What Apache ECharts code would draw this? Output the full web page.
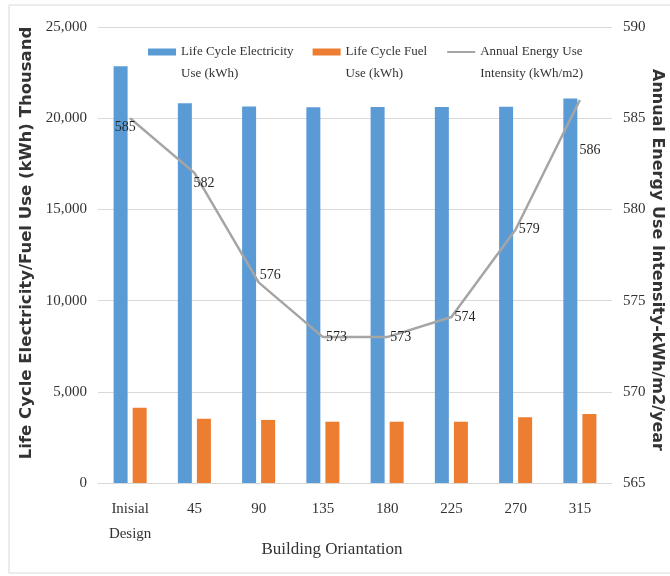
<!DOCTYPE html>
<html>
<head>
<meta charset="utf-8">
<script src="https://cdn.jsdelivr.net/npm/echarts@6/dist/echarts.min.js"></script>
<style>html,body{margin:0;padding:0;background:#fff}#c{width:670px;height:576px}</style>
</head>
<body>
<div id="c"></div>
<script>
var categories = ['Inisial\nDesign', '45', '90', '135', '180', '225', '270', '315'];
var electricity = [22850, 20820, 20640, 20600, 20620, 20620, 20630, 21080];
var fuel = [4120, 3520, 3460, 3360, 3360, 3360, 3610, 3780];
var intensity = [585.0, 582.0, 576.0, 573.0, 573.0, 574.1, 578.9, 586.0];
var leftTicks = [0, 25000, 5000];
var rightTicks = [565, 590, 5];

var serif = '"Liberation Serif", "Times New Roman", serif';
var sansBold = '"DejaVu Sans", sans-serif';

// label placement tweaks (Excel-style auto placement), keyed by point index
var labelTweaks = {
  0: {position: 'bottom', distance: 2, offset: [-5, 0]},
  1: {position: 'right', distance: 3, offset: [-4, 10]},
  2: {position: 'right', distance: 3, offset: [-2, -7]},
  7: {position: 'bottom', distance: 43, offset: [10, 0]}
};
var lineData = intensity.map(function (v, i) {
  return labelTweaks[i] ? {value: v, label: labelTweaks[i]} : v;
});

var chart = echarts.init(document.getElementById('c'), null, {renderer: 'canvas'});
chart.setOption({
  animation: false,
  backgroundColor: '#ffffff',
  graphic: [{
    type: 'rect', silent: true, z: -10,
    shape: {x: 9, y: 5, width: 680, height: 568},
    style: {fill: 'none', stroke: '#d9d9d9', lineWidth: 1}
  }],
  grid: {left: 98, right: 58, top: 27, bottom: 93, containLabel: false, outerBoundsMode: 'none'},
  legend: {
    top: 14, left: 143, itemGap: 19,
    itemWidth: 28, itemHeight: 7,
    // a blank first line keeps the icon level with the first text line
    formatter: function (name) { return ' \n' + name; },
    textStyle: {fontFamily: serif, fontSize: 13, color: '#333333', lineHeight: 22},
    data: [
      {name: 'Life Cycle Electricity\nUse (kWh)', icon: 'rect'},
      {name: 'Life Cycle Fuel\nUse (kWh)', icon: 'rect'},
      {name: 'Annual Energy Use\nIntensity (kWh/m2)', itemStyle: {opacity: 0}}
    ]
  },
  xAxis: {
    type: 'category', data: categories,
    axisLine: {show: true, lineStyle: {color: '#d9d9d9'}},
    axisTick: {show: false},
    axisLabel: {fontFamily: serif, fontSize: 15, color: '#333333', margin: 14, lineHeight: 25, interval: 0},
    name: 'Building Oriantation', nameLocation: 'middle', nameGap: 58, nameMoveOverlap: false,
    nameTextStyle: {fontFamily: serif, fontSize: 17, color: '#333333', padding: [0, 46, 0, 0]}
  },
  yAxis: [{
    type: 'value', min: leftTicks[0], max: leftTicks[1], interval: leftTicks[2],
    axisLine: {show: false}, axisTick: {show: false},
    splitLine: {lineStyle: {color: '#d9d9d9', width: 1}},
    axisLabel: {
      fontFamily: serif, fontSize: 15, color: '#333333', margin: 11,
      formatter: function (v) { return v.toLocaleString('en-US'); }
    },
    name: 'Life Cycle Electricity/Fuel Use (kWh) Thousand',
    nameLocation: 'middle', nameGap: 62, nameRotate: 90,
    nameTextStyle: {fontFamily: sansBold, fontWeight: 'bold', fontSize: 16.5, color: '#333333', padding: [0, 0, 0, 24]}
  }, {
    type: 'value', min: rightTicks[0], max: rightTicks[1], interval: rightTicks[2],
    axisLine: {show: false}, axisTick: {show: false},
    splitLine: {show: false},
    axisLabel: {fontFamily: serif, fontSize: 15, color: '#333333', margin: 11},
    name: 'Annual Energy Use Intensity-kWh/m2/year',
    nameLocation: 'middle', nameGap: 37, nameRotate: -90, nameMoveOverlap: false,
    nameTextStyle: {fontFamily: sansBold, fontWeight: 'bold', fontSize: 16, color: '#333333', padding: [0, 0, 0, 10]}
  }],
  series: [{
    name: 'Life Cycle Electricity\nUse (kWh)', type: 'bar', yAxisIndex: 0,
    data: electricity, barWidth: 14, barGap: '36%',
    itemStyle: {color: '#5b9bd5'}
  }, {
    name: 'Life Cycle Fuel\nUse (kWh)', type: 'bar', yAxisIndex: 0,
    data: fuel, barWidth: 14, barGap: '36%',
    itemStyle: {color: '#ed7d31'}
  }, {
    name: 'Annual Energy Use\nIntensity (kWh/m2)', type: 'line', yAxisIndex: 1,
    data: lineData, symbol: 'circle', symbolSize: 0, showSymbol: true,
    lineStyle: {color: '#a5a5a5', width: 2.5},
    itemStyle: {color: '#a5a5a5'},
    label: {
      show: true, position: 'right', distance: 3,
      fontFamily: serif, fontSize: 14, color: '#262626',
      formatter: function (p) { return Math.round(p.value); }
    },
    z: 5
  }]
});
</script>
</body>
</html>
